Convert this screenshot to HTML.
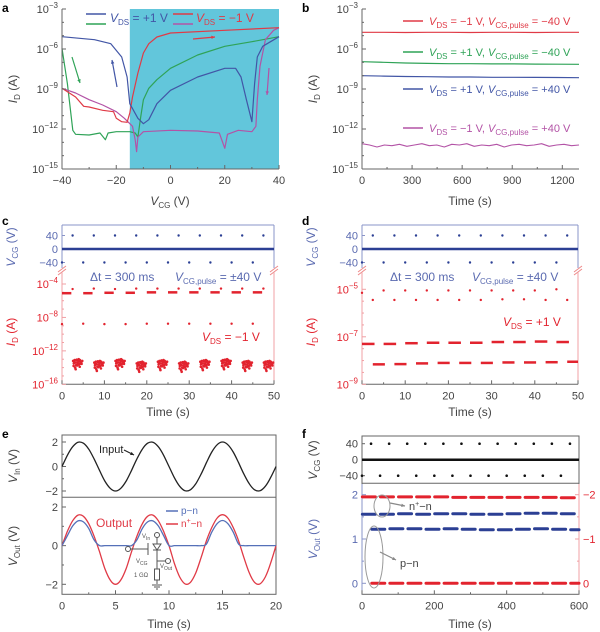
<!DOCTYPE html>
<html><head><meta charset="utf-8"><style>
html,body{margin:0;padding:0;background:#fff;}
svg{display:block;font-family:"Liberation Sans",sans-serif;}
</style></head><body>
<svg id="fig" width="600" height="632" viewBox="0 0 600 632" xmlns="http://www.w3.org/2000/svg"></svg>
<script>
// ---- Panel a data (VCG, log10 ID) ----
const aBlueX=[-40,-28,-22,-18,-16,-15,-12,-10,-8,-5,0,10,20,24,26,28,30,31,32,34,40];
const aBlueY=[-5.08,-5.3,-5.6,-6.6,-8.1,-10.1,-11.2,-11.6,-11.3,-10.1,-9.1,-8.1,-7.45,-7.45,-8.1,-9.8,-11.45,-8.6,-6.6,-5.8,-5.08];
const aGreenX=[-40,-38,-36,-35,-30,-26,-24,-23,-20,-15,-13,-12,-11,-10,-8,-5,0,10,20,30,40];
const aGreenY=[-5.95,-8.6,-12.1,-12.4,-12.45,-12.3,-12.8,-12.3,-12.2,-12.2,-12.3,-12.6,-11.1,-9.8,-8.95,-8.3,-7.45,-6.45,-5.8,-5.45,-5.08];
const aRedX=[-40,-35,-32,-30,-25,-21,-20,-18,-16,-15,-14,-12,-10,-8,-5,0,20,40];
const aRedY=[-8.95,-9.6,-10.3,-10.35,-10.6,-10.7,-11.2,-11.45,-11.5,-10.8,-9.6,-7.8,-6.3,-5.6,-5.1,-4.8,-4.6,-4.4];
const aMagX=[-40,-35,-30,-25,-20,-17,-14,-13,-12.5,-12,-10,0,10,18,20,21,25,30,31.5,32,33,35,38,40];
const aMagY=[-8.95,-9.3,-9.8,-10.2,-10.7,-11.2,-11.8,-12.8,-13.7,-12.6,-12.2,-12.1,-12.15,-12.3,-13.45,-12.4,-12.1,-12.2,-11.8,-9.8,-7.3,-5.3,-4.6,-4.4];
// ---- Panel b data ----
const bRed=[-4.75,-4.75,-4.76,-4.75,-4.75,-4.76,-4.75,-4.75,-4.76,-4.75,-4.75];
const bGreen=[-6.95,-7.0,-7.05,-7.08,-7.1,-7.1,-7.12,-7.12,-7.13,-7.14,-7.15];
const bBlue=[-8.0,-8.03,-8.06,-8.08,-8.1,-8.1,-8.12,-8.12,-8.13,-8.14,-8.15];
const bMag=[-13.1,-13.2,-13.35,-13.2,-13.25,-13.15,-13.3,-13.2,-13.1,-13.25,-13.2,-13.35,-13.15,-13.2,-13.1,-13.3,-13.2,-13.25,-13.15,-13.35,-13.2,-13.15,-13.25,-13.2,-13.1,-13.3,-13.2,-13.15,-13.25,-13.2];
// ---- Panel c/d data ----
const pulsePosT=[2.5,7.5,12.5,17.5,22.5,27.5,32.5,37.5,42.5,47.5];
const pulseNegT=[0,5,10,15,20,25,30,35,40,45];
const cDashLevel=[-5.1,-5.1,-5.05,-5.05,-5.0,-5.0,-5.0,-5.0,-5.0,-5.0];
const cDotHigh=[-4.6,-4.55,-4.6,-4.55,-4.55,-4.55,-4.55,-4.55,-4.55,-4.55];
const cDotMid=[-8.8,-8.75,-8.8,-8.8,-8.75,-8.75,-8.75,-8.75,-8.75,-8.75];
const cCluster=[-13.4,-13.6,-13.4,-13.7,-13.5,-13.7,-13.5,-13.4,-13.6,-13.6];
const jitDt=[0.05,0.12,0.2,0.28,0.35,0.42,0.5,0.58,0.65,0.72,0.8,0.88,0.95,0.1,0.25,0.4,0.55,0.7,0.85,0.3,0.6,0.15,0.45,0.75];
const jitDlog=[0.2,-0.1,0.3,0.0,-0.3,0.25,-0.05,0.15,-0.2,0.3,0.1,-0.15,0.2,-0.4,-0.6,0.35,-0.25,-0.5,0.0,-0.8,0.4,0.1,-0.35,-0.1];
const dDotHigh=[-5.15,-5.05,-5.05,-5.05,-5.05,-5.05,-5.05,-5.05,-5.05,-5.0];
const dDotLow=[-5.45,-5.45,-5.45,-5.45,-5.45,-5.45,-5.42,-5.42,-5.45,-5.45];
const dDashUp=[-7.3,-7.3,-7.27,-7.25,-7.25,-7.25,-7.22,-7.22,-7.2,-7.22];
const dDashLow=[-8.16,-8.15,-8.12,-8.1,-8.1,-8.1,-8.08,-8.08,-8.07,-8.05];
// ---- Panel e data (sampled every 0.5 s) ----
const eInput=[0,0.91,1.62,1.98,1.9,1.41,0.62,-0.31,-1.18,-1.78,-2,-1.78,-1.18,-0.31,0.62,1.41,1.9,1.98,1.62,0.91,0,-0.91,-1.62,-1.98,-1.9,-1.41,-0.62,0.31,1.18,1.78,2,1.78,1.18,0.31,-0.62,-1.41,-1.9,-1.98,-1.62,-0.91,0];
const eRed=[0,0.73,1.29,1.58,1.52,1.13,0.49,-0.31,-1.18,-1.78,-2,-1.78,-1.18,-0.31,0.49,1.13,1.52,1.58,1.29,0.73,0,-0.91,-1.62,-1.98,-1.9,-1.41,-0.62,0.25,0.94,1.43,1.6,1.43,0.94,0.25,-0.62,-1.41,-1.9,-1.98,-1.62,-0.91,0];
const eBlue=[0,0.51,1.02,1.28,1.23,0.88,0.3,0,0,0,0,0,0,0,0.3,0.88,1.23,1.28,1.02,0.51,0,0,0,0,0,0,0,0.08,0.7,1.14,1.3,1.14,0.7,0.08,0,0,0,0,0,0,0];
// ---- Panel f data ----
const fPosT=[25,75,125,175,225,275,325,375,425,475,525,575];
const fNegT=[0,50,100,150,200,250,300,350,400,450,500,550];
const fRedTop=[1.95,1.95,1.95,1.95,1.95,1.94,1.94,1.94,1.94,1.94,1.94,1.93];
const fBlueHi=[1.56,1.56,1.57,1.56,1.57,1.57,1.56,1.56,1.57,1.58,1.58,1.57];
const fBlueLo=[1.22,1.23,1.23,1.22,1.23,1.22,1.21,1.21,1.22,1.23,1.22,1.21];
const fRedZero=[0,0,0,0,0,0,0,0,0,0,0,0];

const NS='http://www.w3.org/2000/svg';
const svg=document.getElementById('fig');
function mk(tag,a,name,parent){const e=document.createElementNS(NS,tag);for(const k in a)e.setAttribute(k,a[k]);


(parent||svg).appendChild(e);return e;}
function txt(x,y,html,name,a){const e=mk('text',Object.assign({x:x,y:y,'font-size':11,fill:'#444'},a||{}),name);e.innerHTML=html;return e;}
function scale(d0,d1,r0,r1){return v=>r0+(v-d0)*(r1-r0)/(d1-d0);}
function line(x1,y1,x2,y2,c,w,name){return mk('line',{x1:x1,y1:y1,x2:x2,y2:y2,stroke:c,'stroke-width':w||1},name);}
function poly(xs,ys,sx,sy,c,w,name){let p=xs.map((v,i)=>sx(v).toFixed(1)+','+sy(ys[i]).toFixed(1)).join(' ');return mk('polyline',{points:p,fill:'none',stroke:c,'stroke-width':w||1.2,'stroke-linejoin':'round'},name);}
function smooth(xs,ys,sx,sy,c,w,name){const P=xs.map((v,i)=>[sx(v),sy(ys[i])]);let d='M'+P[0][0].toFixed(1)+','+P[0][1].toFixed(1);
 for(let i=0;i<P.length-1;i++){const p0=P[Math.max(0,i-1)],p1=P[i],p2=P[i+1],p3=P[Math.min(P.length-1,i+2)];
 d+=' C'+(p1[0]+(p2[0]-p0[0])/6).toFixed(1)+','+(p1[1]+(p2[1]-p0[1])/6).toFixed(1)+' '+(p2[0]-(p3[0]-p1[0])/6).toFixed(1)+','+(p2[1]-(p3[1]-p1[1])/6).toFixed(1)+' '+p2[0].toFixed(1)+','+p2[1].toFixed(1);}
 return mk('path',{d:d,fill:'none',stroke:c,'stroke-width':w},name);}
function dot(x,y,r,c,name){return mk('circle',{cx:x,cy:y,r:r,fill:c},name);}
const sup=e=>'10<tspan dy="-5" font-size="8">'+e+'</tspan>';
const sub=(v,s)=>'<tspan font-style="italic">'+v+'</tspan><tspan dy="3" font-size="8">'+s+'</tspan><tspan dy="-3">';
function ytick(x,y,len,c,label,lc,name){line(x,y,x+len,y,c,1,name+'-tick');if(label!==null)txt(x-4,y+4,label,name+'-label',{'text-anchor':'end',fill:lc});}
function xtick(x,y,len,c,label,lc,name){line(x,y,x,y-len,c,1,name+'-tick');if(label!==null)txt(x,y+15,label,name+'-label',{'text-anchor':'middle',fill:lc});}
function vlabel(x,y,html,c,name){const e=txt(x,y,html,name,{'text-anchor':'middle',fill:c,transform:'rotate(-90 '+x+' '+y+')','font-size':12});return e;}
const AX='#666';
[['a',2,12],['b',302,12],['c',2,225],['d',302,225],['e',2,438],['f',302,438]].forEach(p=>txt(p[1],p[2],p[0],'panel-label-'+p[0],{'font-weight':'bold',fill:'#000','font-size':12}));

// ===== Panel a =====
const xa=scale(-40,40,62,279), ya=scale(-15,-3,169,9);
mk('rect',{x:xa(-15),y:9,width:279-xa(-15),height:160,fill:'#62c6db'},'shaded-region');
poly(aGreenX,aGreenY,xa,ya,'#2fa357',1.2,'a-green-curve');
poly(aMagX,aMagY,xa,ya,'#b353a6',1.2,'a-magenta-curve');
poly(aRedX,aRedY,xa,ya,'#e03a46',1.2,'a-red-curve');
poly(aBlueX,aBlueY,xa,ya,'#4256a6',1.2,'a-blue-curve');
line(62,9,62,169,AX,1,'a-y-axis');line(62,169,279,169,AX,1,'a-x-axis');
for(let e=-15;e<=-3;e++)ytick(62,ya(e),e%3===0?4:2,AX,e%3===0?sup('−'+(-e)):null,'#444','a-y');
for(let v=-40;v<=40;v+=10)xtick(xa(v),169,v%20===0?4:2,AX,v%20===0?(v<0?'−'+(-v):v):null,'#444','a-x');
txt(170,205,sub('V','CG')+' (V)</tspan>','a-x-title',{'text-anchor':'middle','font-size':12});
vlabel(17,89,sub('I','D')+' (A)</tspan>','#444','a-y-title');
line(86,14,106,14,'#4256a6',1.5,'legend-blue-line');line(86,24,106,24,'#2fa357',1.5,'legend-green-line');
txt(110,22,sub('V','DS')+' = +1 V</tspan>','legend-vds-pos',{fill:'#4256a6','font-size':12});
line(173,14,193,14,'#e03a46',1.5,'legend-red-line');line(173,24,193,24,'#b353a6',1.5,'legend-magenta-line');
txt(196,22,sub('V','DS')+' = −1 V</tspan>','legend-vds-neg',{fill:'#e03a46','font-size':12});
function arrow(x1,y1,x2,y2,c,name){line(x1,y1,x2,y2,c,1.2,name);const a=Math.atan2(y2-y1,x2-x1),s=4;
mk('polygon',{points:x2+','+y2+' '+(x2-s*Math.cos(a-0.45))+','+(y2-s*Math.sin(a-0.45))+' '+(x2-s*Math.cos(a+0.45))+','+(y2-s*Math.sin(a+0.45)),fill:c},name+'-head');}
arrow(72,57,80,83,'#2fa357','a-arrow-green');arrow(117,87,112,60,'#4256a6','a-arrow-blue');
arrow(193,39,215,37,'#e03a46','a-arrow-red');arrow(269,68,267,95,'#b353a6','a-arrow-magenta');

// ===== Panel b =====
const xb=scale(0,1300,362,579), yb=ya;
const idx=(arr,max)=>arr.map((_,i)=>i*max/(arr.length-1));
poly(idx(bRed,1300),bRed,xb,yb,'#e03a46',1.2,'b-red-line');
poly(idx(bGreen,1300),bGreen,xb,yb,'#2fa357',1.2,'b-green-line');
poly(idx(bBlue,1300),bBlue,xb,yb,'#4256a6',1.2,'b-blue-line');
poly(idx(bMag,1300),bMag,xb,yb,'#b353a6',1.1,'b-magenta-line');
line(362,9,362,169,AX,1,'b-y-axis');line(362,169,579,169,AX,1,'b-x-axis');
for(let e=-15;e<=-3;e++)ytick(362,yb(e),e%3===0?4:2,AX,e%3===0?sup('−'+(-e)):null,'#444','b-y');
for(let v=0;v<=1300;v+=150)xtick(xb(v),169,v%300===0?4:2,AX,v%300===0?v:null,'#444','b-x');
txt(470,205,'Time (s)','b-x-title',{'text-anchor':'middle','font-size':12});
vlabel(317,89,sub('I','D')+' (A)</tspan>','#444','b-y-title');
const bl=[[21,'#e03a46','−1 V','−40 V'],[52,'#2fa357','+1 V','−40 V'],[89,'#4256a6','+1 V','+40 V'],[128,'#b353a6','−1 V','+40 V']];
bl.forEach((l,i)=>{line(403,l[0],423,l[0],l[1],1.5,'b-legend-line-'+i);
txt(429,l[0]+4,sub('V','DS')+' = '+l[2]+', </tspan>'+sub('V','CG,pulse')+' = '+l[3]+'</tspan>','b-legend-text-'+i,{fill:l[1],'font-size':11});});

// ===== Panels c & d =====
const BLUE='#2b3f94', BAX='#8a94c8', RED='#e2232e', RAX='#f0a0a4';
function topVCG(x0,x1,xs,pfx){
 const yv=scale(-40,40,262.5,235.5);
 line(x0,225,x1,225,BAX,1,pfx+'-top-border');line(x0,225,x0,268,BAX,1,pfx+'-top-left');line(x1,225,x1,268,BAX,1,pfx+'-top-right');
 [40,0,-40].forEach(v=>ytick(x0,yv(v),3,BAX,v<0?'−40':v,'#5a6ab0',pfx+'-vcg'));
 line(x0,yv(0),x1,yv(0),BLUE,2.5,pfx+'-vcg-zero');
 pulsePosT.forEach(t=>dot(xs(t),yv(40),1.2,BLUE,pfx+'-pulse-pos'));
 pulseNegT.forEach(t=>dot(xs(t),yv(-40),1.2,BLUE,pfx+'-pulse-neg'));
 [x0,x1].forEach((x,i)=>{line(x-4,272,x+4,266,'#e88',1,pfx+'-break-'+i);line(x-4,275,x+4,269,'#e88',1,pfx+'-break2-'+i);});
 line(x0,272,x0,384.3,RAX,1,pfx+'-id-axis');line(x1,272,x1,384.3,RAX,1,pfx+'-right-axis');line(x0,384.3,x1,384.3,AX,1,pfx+'-x-axis');
 for(let v=0;v<=50;v+=5)xtick(xs(v),384.3,v%10===0?4:2,AX,v%10===0?v:null,'#444',pfx+'-x');
 txt((x0+x1)/2,416,'Time (s)',pfx+'-x-title',{'text-anchor':'middle','font-size':12});
 vlabel(x0-47,247,sub('V','CG')+' (V)</tspan>','#5a6ab0',pfx+'-vcg-title');
 vlabel(x0-47,332,sub('I','D')+' (A)</tspan>',RED,pfx+'-id-title');
 txt(x0+28,281,'Δt = 300 ms',pfx+'-dt-note',{fill:'#5a6ab0','font-size':12});
}
const xc=scale(0,50,62,274), yc=scale(-16,-4,384.3,284);
topVCG(62,274,xc,'c');
for(let e=-16;e<=-4;e++)ytick(62,yc(e),e%4===0?4:2,RAX,e%4===0?sup('−'+(-e)):null,RED,'c-id');
txt(175,281,sub('V','CG,pulse')+' = ±40 V</tspan>','c-pulse-note',{fill:'#5a6ab0','font-size':12});
txt(202,341,sub('V','DS')+' = −1 V</tspan>','c-vds-note',{fill:RED,'font-size':12});
pulseNegT.forEach((t,i)=>{line(xc(t),yc(cDashLevel[i]),xc(t+2.2),yc(cDashLevel[i]),RED,2.5,'c-high-dash');
 dot(xc(t+2.5),yc(cDotHigh[i]),1.2,RED,'c-high-dot');dot(xc(t),yc(cDotMid[i]),1.2,RED,'c-mid-dot');
 jitDt.forEach((d,j)=>dot(xc(t+2.5+d*2.4),yc(cCluster[i]+jitDlog[j]),1.3,RED,'c-off-point'));});
const xd=scale(0,50,362,578), yd=scale(-9,-5,384.3,289.3);
topVCG(362,578,xd,'d');
for(let e=-9;e<=-5;e+=0.5)ytick(362,yd(e),Number.isInteger(e)&&(e%2!==0)?4:2,RAX,Number.isInteger(e)&&(e%2!==0)?sup('−'+(-e)):null,RED,'d-id');
txt(472,281,sub('V','CG,pulse')+' = ±40 V</tspan>','d-pulse-note',{fill:'#5a6ab0','font-size':12});
txt(503,326,sub('V','DS')+' = +1 V</tspan>','d-vds-note',{fill:RED,'font-size':12});
pulseNegT.forEach((t,i)=>{dot(xd(t),yd(dDotHigh[i]),1.2,RED,'d-high-dot');dot(xd(t+2.5),yd(dDotLow[i]),1.2,RED,'d-low-dot');
 line(xd(t),yd(dDashUp[i]),xd(t+2.9),yd(dDashUp[i]),RED,2.5,'d-upper-dash');
 line(xd(t+2.5),yd(dDashLow[i]),xd(Math.min(50,t+5.3)),yd(dDashLow[i]),RED,2.5,'d-lower-dash');});

// ===== Panel e =====
const xe=scale(0,20,62,276), ye1=scale(-2,2,491,442), ye2=scale(-2,2,584.3,507);
mk('rect',{x:62,y:435,width:214,height:159.3,fill:'none',stroke:AX,'stroke-width':1},'e-frame');
line(62,497.3,276,497.3,AX,1,'e-divider');
[-2,-1,0,1,2].forEach(v=>{ytick(62,ye1(v),v%2===0?4:2,AX,v%2===0?(v<0?'−2':v):null,'#444','e-vin');ytick(62,ye2(v),v%2===0?4:2,AX,v%2===0?(v<0?'−2':v):null,'#444','e-vout');});
for(let v=0;v<=20;v+=2.5)xtick(xe(v),594.3,v%5===0?4:2,AX,v%5===0?v:null,'#444','e-x');
const eT=idx(eInput,20);
smooth(eT,eInput,xe,ye1,'#222',1.3,'e-input-curve');
smooth(eT,eRed,xe,ye2,'#e03a46',1.3,'e-output-npn-curve');
smooth(eT,eBlue,xe,ye2,'#5570b8',1.3,'e-output-pn-curve');
txt(169,628,'Time (s)','e-x-title',{'text-anchor':'middle','font-size':12});
vlabel(17,466,sub('V','In')+' (V)</tspan>','#444','e-vin-title');
vlabel(17,546,sub('V','Out')+' (V)</tspan>','#444','e-vout-title');
txt(99,453,'Input','e-input-label',{fill:'#222','font-size':11});arrow(124,450,134,455,'#222','e-input-arrow');
txt(96,527,'Output','e-output-label',{fill:'#e03a46','font-size':12});
line(166,511,178,511,'#5570b8',1.5,'e-legend-pn-line');txt(181,514,'p−n','e-legend-pn',{fill:'#5570b8','font-size':10});
line(166,524,178,524,'#e03a46',1.5,'e-legend-npn-line');txt(181,527,'n<tspan dy="-4" font-size="7">+</tspan><tspan dy="4">−n</tspan>','e-legend-npn',{fill:'#e03a46','font-size':10});
const CC='#555';
mk('circle',{cx:157,cy:535,r:2.5,fill:'#fff',stroke:CC},'circuit-vin-node');
line(157,537.5,157,584,CC,1,'circuit-wire');
mk('polygon',{points:'153,544 161,544 157,550',fill:'#fff',stroke:CC},'circuit-diode');
line(153,550,161,550,CC,1,'circuit-diode-bar');
mk('circle',{cx:128,cy:549,r:2.5,fill:'#fff',stroke:CC},'circuit-vcg-node');
line(130.5,549,148,549,CC,1,'circuit-gate-wire');line(148,543,148,555,CC,1,'circuit-gate');
mk('circle',{cx:168,cy:561,r:2.5,fill:'#fff',stroke:CC},'circuit-vout-node');line(157,561,165.5,561,CC,1,'circuit-out-wire');
mk('rect',{x:154.5,y:569,width:5,height:11,fill:'#fff',stroke:CC},'circuit-resistor');
line(152,585,162,585,CC,1,'circuit-ground1');line(154,587,160,587,CC,1,'circuit-ground2');line(156,589,158,589,CC,1,'circuit-ground3');
txt(142,538,'V<tspan font-size="5" dy="2">In</tspan>','circuit-vin-label',{'font-size':6,fill:CC});
txt(136,563,'V<tspan font-size="5" dy="2">CG</tspan>','circuit-vcg-label',{'font-size':6,fill:CC});
txt(160,568,'V<tspan font-size="5" dy="2">Out</tspan>','circuit-vout-label',{'font-size':6,fill:CC});
txt(134,577,'1 GΩ','circuit-r-label',{'font-size':6,fill:CC});

// ===== Panel f =====
const xf=scale(0,600,362,579), yf1=scale(-40,40,475.7,443.7), yf2=scale(0,2,583.3,494.7);
mk('rect',{x:362,y:436,width:217,height:158.3,fill:'none',stroke:AX,'stroke-width':1},'f-frame');
line(362,483.3,579,483.3,AX,1,'f-divider');
line(362,484,362,594.3,'#8a94c8',1,'f-vout-axis');line(579,484,579,594.3,RAX,1,'f-right-axis');
[40,0,-40].forEach(v=>ytick(362,yf1(v),3,AX,v<0?'−40':v,'#444','f-vcg'));
[0,0.5,1,1.5,2].forEach(v=>{ytick(362,yf2(v),Number.isInteger(v)?4:2,'#8a94c8',Number.isInteger(v)?v:null,'#5a6ab0','f-vout');
 line(579,yf2(v),579-(Number.isInteger(v)?4:2),yf2(v),RAX,1,'f-right-tick');
 if(Number.isInteger(v))txt(583,yf2(v)+4,v===0?'0':'−'+v,'f-right-label',{fill:RED});});
for(let v=0;v<=600;v+=100)xtick(xf(v),594.3,v%200===0?4:2,AX,v%200===0?v:null,'#444','f-x');
line(362,yf1(0),579,yf1(0),'#111',2.5,'f-vcg-zero');
fPosT.forEach(t=>dot(xf(t),yf1(40),1.3,'#111','f-pulse-pos'));
fNegT.forEach(t=>dot(xf(t),yf1(-40),1.3,'#111','f-pulse-neg'));
function fd(st,len,v,c,name){return mk('line',{x1:xf(st),y1:yf2(v),x2:xf(Math.min(600,st+len)),y2:yf2(v),stroke:c,'stroke-width':3,'stroke-linecap':'round'},name);}
fNegT.forEach((t,i)=>{fd(t+1,36,fRedTop[i],'#e2232e','f-npn-red-dash');fd(t+1,36,fBlueHi[i],'#2b3f94','f-npn-blue-dash');
 fd(t+27,36,fBlueLo[i],'#2b3f94','f-pn-blue-dash');fd(t+27,36,fRedZero[i],'#e2232e','f-pn-red-dash');});
mk('ellipse',{cx:382,cy:506,rx:8,ry:11,fill:'none',stroke:'#999','stroke-width':1},'f-npn-ellipse');
mk('ellipse',{cx:374,cy:557,rx:9,ry:31,fill:'none',stroke:'#999','stroke-width':1},'f-pn-ellipse');
arrow(390,503,405,506,'#888','f-npn-arrow');arrow(380,552,396,560,'#888','f-pn-arrow');
txt(409,510,'n<tspan dy="-4" font-size="7">+</tspan><tspan dy="4">−n</tspan>','f-npn-label',{fill:'#444','font-size':11});
txt(400,567,'p−n','f-pn-label',{fill:'#444','font-size':11});
txt(470,628,'Time (s)','f-x-title',{'text-anchor':'middle','font-size':12});
vlabel(317,460,sub('V','CG')+' (V)</tspan>','#444','f-vcg-title');
vlabel(317,539,sub('V','Out')+' (V)</tspan>','#5a6ab0','f-vout-title');
</script>
</body></html>
